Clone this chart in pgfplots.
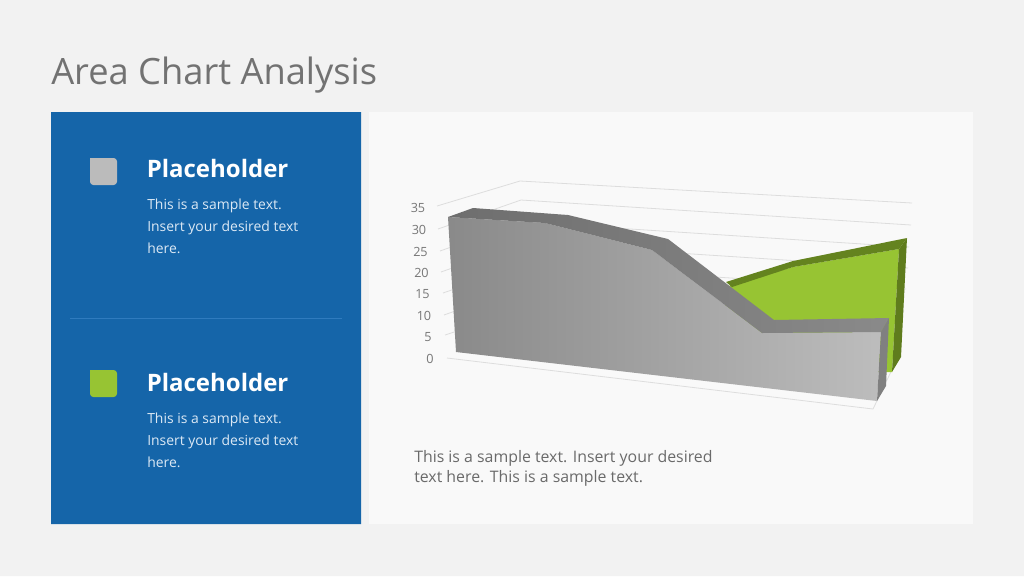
\documentclass[border=0pt]{standalone}
\usepackage{fontspec}
\usepackage{pgfplots}
\pgfplotsset{compat=1.18}
\setmainfont{Open Sans}
\definecolor{bg}{HTML}{F2F2F2}
\definecolor{panel}{HTML}{F9F9F9}
\definecolor{blue}{HTML}{1565A9}
\definecolor{divider}{HTML}{2F7BBE}
\definecolor{swgray}{HTML}{BBBBBB}
\definecolor{green}{HTML}{97C433}
\definecolor{greendk}{HTML}{64831F}
\definecolor{gridc}{HTML}{DDDDDD}
\definecolor{titlec}{HTML}{727272}
\definecolor{bodyc}{HTML}{6A6A6A}
\definecolor{tickc}{HTML}{777777}
\definecolor{bluetxt}{HTML}{DCE9F5}
\newcommand{\fs}[1]{\fontsize{#1}{#1}\selectfont}
\begin{document}
\begin{tikzpicture}
\begin{axis}[
  x=0.75pt, y=0.75pt, y dir=reverse,
  xmin=0, xmax=1024, ymin=0, ymax=576,
  hide axis, clip=false, no markers,
  every axis plot/.append style={draw=none, line join=round}]
% slide background and panels
\addplot[fill=bg] coordinates {(0,0) (1024,0) (1024,576) (0,576) (0,0)};
\addplot[fill=blue] coordinates {(51,112) (361,112) (361,524) (51,524) (51,112)};
\addplot[fill=panel] coordinates {(369,112) (973,112) (973,524) (369,524) (369,112)};
\addplot[draw=divider, line width=0.6pt] coordinates {(70,318) (342,318)};
\addplot[fill=swgray, rounded corners=2.5pt] coordinates {(90,158) (117,158) (117,185) (90,185) (90,158)};
\addplot[fill=green, rounded corners=2.5pt] coordinates {(90,370) (117,370) (117,397) (90,397) (90,370)};
% walls: gridlines 35 to 5
\addplot[draw=gridc, line width=0.6pt] coordinates {(437,206) (520,181) (912,203)};
\addplot[draw=gridc, line width=0.6pt] coordinates {(438,229) (521,200) (911,225)};
\addplot[draw=gridc, line width=0.6pt] coordinates {(440,251) (522,222) (909,247)};
\addplot[draw=gridc, line width=0.6pt] coordinates {(441,272) (523,243) (908,268)};
\addplot[draw=gridc, line width=0.6pt] coordinates {(443,293) (524,265) (906,289)};
\addplot[draw=gridc, line width=0.6pt] coordinates {(444,315) (525,286) (904,311)};
\addplot[draw=gridc, line width=0.6pt] coordinates {(445,335) (526,308) (902,332)};
% floor
\addplot[draw=gridc, line width=0.6pt] coordinates {(447,358) (873,409) (900,353)};
% green series
\addplot[fill=green] coordinates {(725,287) (793,267) (899,249) (892,372) (725,372) (725,287)};
\addplot[fill=greendk] coordinates {(726,282) (793,261) (907,238) (899,249) (793,267) (732,287) (726,282)};
\addplot[fill=greendk!95!black] coordinates {(899,249) (907,238) (901,357) (892,372) (899,249)};
% gray series
\addplot[left color=black!46, right color=black!26] coordinates {(448,217) (545,223) (652,250) (762,333) (881,332) (877,401) (456,352) (448,217)};
\addplot[left color=black!57, right color=black!46] coordinates {(448,217) (473,208) (568,215) (668,239) (774,320) (889,318) (881,332) (762,333) (652,250) (545,223) (448,217)};
\addplot[fill=black!50] coordinates {(881,332) (889,318) (886,386) (877,401) (881,332)};
% value axis labels
\node[anchor=east, inner sep=0pt, text=tickc, font=\fs{9.5}] at (axis cs:425.5,207.5) {35};
\node[anchor=east, inner sep=0pt, text=tickc, font=\fs{9.5}] at (axis cs:426.5,229.5) {30};
\node[anchor=east, inner sep=0pt, text=tickc, font=\fs{9.5}] at (axis cs:428,251.5) {25};
\node[anchor=east, inner sep=0pt, text=tickc, font=\fs{9.5}] at (axis cs:429,272.5) {20};
\node[anchor=east, inner sep=0pt, text=tickc, font=\fs{9.5}] at (axis cs:430,294.5) {15};
\node[anchor=east, inner sep=0pt, text=tickc, font=\fs{9.5}] at (axis cs:431.5,315.5) {10};
\node[anchor=east, inner sep=0pt, text=tickc, font=\fs{9.5}] at (axis cs:432,337.5) {5};
\node[anchor=east, inner sep=0pt, text=tickc, font=\fs{9.5}] at (axis cs:434,358.5) {0};
% text
\node[anchor=base west, inner sep=0pt, text=titlec, font=\fs{27.2}] at (axis cs:51,84) {Area Chart Analysis};
\node[anchor=base west, inner sep=0pt, text=white, font=\fs{18}\bfseries] at (axis cs:146.5,177) {Placeholder};
\node[anchor=base west, inner sep=0pt, text=bluetxt, font=\fs{10.45}] at (axis cs:147,209) {This is a sample text.};
\node[anchor=base west, inner sep=0pt, text=bluetxt, font=\fs{10.45}] at (axis cs:147,231) {Insert your desired text};
\node[anchor=base west, inner sep=0pt, text=bluetxt, font=\fs{10.45}] at (axis cs:147,253) {here.};
\node[anchor=base west, inner sep=0pt, text=white, font=\fs{18}\bfseries] at (axis cs:146.5,391) {Placeholder};
\node[anchor=base west, inner sep=0pt, text=bluetxt, font=\fs{10.45}] at (axis cs:147,423) {This is a sample text.};
\node[anchor=base west, inner sep=0pt, text=bluetxt, font=\fs{10.45}] at (axis cs:147,445) {Insert your desired text};
\node[anchor=base west, inner sep=0pt, text=bluetxt, font=\fs{10.45}] at (axis cs:147,467) {here.};
\node[anchor=base west, inner sep=0pt, text=bodyc, font=\fs{11.9}] at (axis cs:414,462) {This is a sample text. Insert your desired};
\node[anchor=base west, inner sep=0pt, text=bodyc, font=\fs{11.9}] at (axis cs:414,482) {text here. This is a sample text.};
\end{axis}
\end{tikzpicture}
\end{document}
